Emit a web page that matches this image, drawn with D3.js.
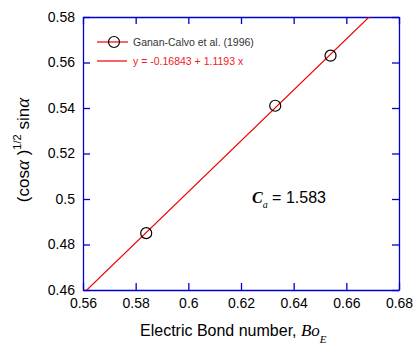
<!DOCTYPE html>
<html><head><meta charset="utf-8">
<script src="https://cdn.jsdelivr.net/npm/d3@7"></script>
<style>body{margin:0;background:#fff}svg{display:block}</style>
</head><body>
<script>
const xValues = [0.584, 0.633, 0.654];
const yValues = [0.485, 0.541, 0.563];
const fitIntercept = -0.16843;
const fitSlope = 1.1193;
const xTicks = [0.56, 0.58, 0.6, 0.62, 0.64, 0.66, 0.68];
const yTicks = [0.46, 0.48, 0.5, 0.52, 0.54, 0.56, 0.58];
const seriesName = "Ganan-Calvo et al. (1996)";
const fitLabel = "y = -0.16843 + 1.1193 x";
const caLabel = "1.583";

const W = 415, H = 353;
const m = {l: 83, r: 16, t: 17, b: 63};
const svg = d3.select("body").append("svg").attr("width", W).attr("height", H);
const x = d3.scaleLinear().domain([0.56, 0.68]).range([m.l, W - m.r]);
const y = d3.scaleLinear().domain([0.46, 0.58]).range([H - m.b, m.t]);
const font = "'Liberation Sans', Arial, sans-serif";
const serif = "'Liberation Serif', 'Times New Roman', serif";
const blue = "#0000cc";

function styleAxis(g) {
  g.select(".domain").attr("stroke", blue).attr("stroke-width", 1.3);
  g.selectAll(".tick line").attr("stroke", blue).attr("stroke-width", 1.3);
  g.selectAll("text").attr("font-family", font).attr("font-size", 14).attr("fill", "#000");
}
const tl = 7;
svg.append("g").attr("transform", `translate(0,${H - m.b})`)
  .call(d3.axisBottom(x).tickValues(xTicks).tickFormat(d => String(d)).tickSizeInner(-tl).tickSizeOuter(0).tickPadding(8))
  .call(styleAxis);
svg.append("g").attr("transform", `translate(0,${m.t})`)
  .call(d3.axisTop(x).tickValues(xTicks).tickFormat("").tickSizeInner(-tl).tickSizeOuter(0))
  .call(styleAxis);
svg.append("g").attr("transform", `translate(${m.l},0)`)
  .call(d3.axisLeft(y).tickValues(yTicks).tickFormat(d => String(d)).tickSizeInner(-tl).tickSizeOuter(0).tickPadding(8))
  .call(styleAxis);
svg.append("g").attr("transform", `translate(${W - m.r},0)`)
  .call(d3.axisRight(y).tickValues(yTicks).tickFormat("").tickSizeInner(-tl).tickSizeOuter(0))
  .call(styleAxis);

svg.append("clipPath").attr("id", "clip").append("rect")
  .attr("x", m.l).attr("y", m.t).attr("width", W - m.l - m.r).attr("height", H - m.t - m.b);

const fx = x.domain();
svg.append("line").attr("clip-path", "url(#clip)")
  .attr("x1", x(fx[0])).attr("y1", y(fitIntercept + fitSlope * fx[0]))
  .attr("x2", x(fx[1])).attr("y2", y(fitIntercept + fitSlope * fx[1]))
  .attr("stroke", "#ee0000").attr("stroke-width", 1.2);

svg.selectAll("circle.pt").data(xValues).join("circle").attr("class", "pt")
  .attr("cx", (d) => x(d)).attr("cy", (d, i) => y(yValues[i])).attr("r", 5.5)
  .attr("fill", "none").attr("stroke", "#000").attr("stroke-width", 1.2);

// legend
const lg = svg.append("g");
lg.append("line").attr("x1", 97).attr("x2", 128).attr("y1", 42).attr("y2", 42).attr("stroke", "#ee0000").attr("stroke-width", 1.2);
lg.append("circle").attr("cx", 114).attr("cy", 42).attr("r", 5.5).attr("fill", "none").attr("stroke", "#000").attr("stroke-width", 1.2);
lg.append("text").attr("x", 133).attr("y", 46).attr("font-family", font).attr("font-size", 10.5).attr("fill", "#333").text(seriesName);
lg.append("line").attr("x1", 97).attr("x2", 127).attr("y1", 61).attr("y2", 61).attr("stroke", "#ee0000").attr("stroke-width", 1.2);
lg.append("text").attr("x", 133).attr("y", 65).attr("font-family", font).attr("font-size", 10.5).attr("fill", "#ee2222").text(fitLabel);

// Ca annotation
const ca = svg.append("text").attr("x", 252).attr("y", 203).attr("font-family", font).attr("font-size", 16).attr("fill", "#000");
ca.append("tspan").attr("font-family", serif).attr("font-style", "italic").attr("font-weight", "bold").text("C");
ca.append("tspan").attr("font-family", serif).attr("font-style", "italic").attr("font-size", 10).attr("dy", 5).text("a");
ca.append("tspan").attr("dy", -5).text(" = " + caLabel);

// x title
const xt = svg.append("text").attr("x", 140).attr("y", 336).attr("font-family", font).attr("font-size", 16).attr("fill", "#000");
xt.append("tspan").text("Electric Bond number, ");
xt.append("tspan").attr("font-family", serif).attr("font-style", "italic").attr("font-size", 17).text("Bo");
xt.append("tspan").attr("font-family", serif).attr("font-style", "italic").attr("font-size", 11).attr("dy", 7).text("E");

// y title
const yt = svg.append("text").attr("transform", "translate(29,150) rotate(-90)").attr("text-anchor", "middle")
  .attr("font-family", font).attr("font-size", 17).attr("fill", "#000");
yt.append("tspan").text("(cos");
yt.append("tspan").attr("font-family", serif).attr("font-style", "italic").attr("font-size", 19).text("α");
yt.append("tspan").text(" )");
yt.append("tspan").attr("font-size", 11).attr("dy", -8).text("1/2");
yt.append("tspan").attr("dy", 8).text(" sin");
yt.append("tspan").attr("font-family", serif).attr("font-style", "italic").attr("font-size", 19).text("α");
</script>
</body></html>
